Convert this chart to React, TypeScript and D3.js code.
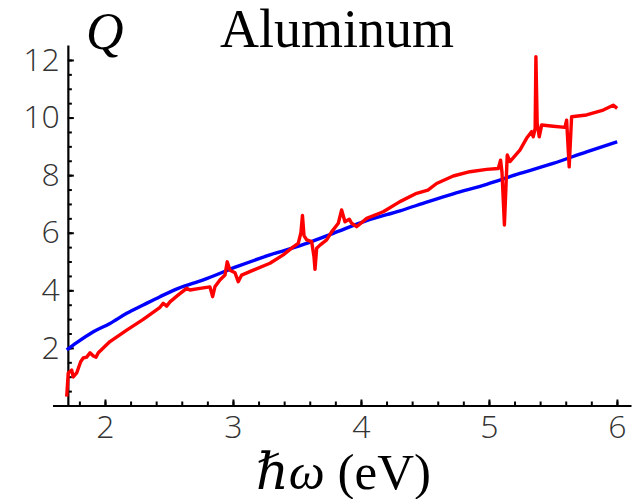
import { useEffect, useRef } from "react";
import * as d3 from "d3";

const W = 638;
const H = 499;

const measuredEnergy = [
  1.701, 1.713, 1.74, 1.752, 1.779, 1.81, 1.83, 1.857, 1.883, 1.909, 1.93, 1.948,
  2.039, 2.17, 2.299, 2.43, 2.455, 2.482, 2.508, 2.573, 2.638, 2.664, 2.742, 2.82,
  2.841, 2.859, 2.898, 2.938, 2.955, 2.977, 3.016, 3.041, 3.068, 3.159, 3.289, 3.393,
  3.471, 3.51, 3.531, 3.543, 3.555, 3.576, 3.615, 3.633, 3.641, 3.654, 3.68, 3.732,
  3.771, 3.823, 3.849, 3.875, 3.909, 3.927, 3.966, 4.045, 4.174, 4.305, 4.435, 4.523,
  4.591, 4.721, 4.852, 4.982, 5.073, 5.091, 5.102, 5.121, 5.133, 5.143, 5.164, 5.242,
  5.294, 5.333, 5.346, 5.361, 5.367, 5.377, 5.393, 5.412, 5.502, 5.594, 5.607, 5.627,
  5.646, 5.763, 5.893, 5.971, 6.002,
];
const measuredQ = [
  0.31, 1.13, 1.23, 0.99, 1.13, 1.52, 1.65, 1.68, 1.83, 1.72, 1.68, 1.83,
  2.22, 2.62, 2.99, 3.41, 3.55, 3.45, 3.6, 3.84, 4.07, 4.01, 4.07, 4.12,
  3.78, 4.12, 4.36, 4.53, 4.99, 4.7, 4.61, 4.3, 4.53, 4.7, 4.94, 5.23,
  5.51, 5.63, 6.0, 6.6, 5.9, 5.75, 5.69, 5.17, 4.73, 5.46, 5.57, 5.75,
  6.03, 6.33, 6.79, 6.38, 6.47, 6.33, 6.21, 6.5, 6.73, 7.08, 7.37, 7.48,
  7.71, 7.97, 8.12, 8.2, 8.23, 8.52, 8.1, 6.27, 7.6, 8.7, 8.47, 8.87,
  9.28, 9.51, 9.33, 9.62, 12.11, 9.8, 9.33, 9.74, 9.7, 9.66, 9.91, 8.29,
  10.03, 10.09, 10.26, 10.43, 10.32,
];

// theory curve (blue)
const theoryEnergy = [
  1.701, 1.779, 1.909, 2.039, 2.17, 2.299, 2.43, 2.573, 2.768, 3.029, 3.289, 3.588,
  3.784, 4.044, 4.305, 4.526, 4.721, 4.982, 5.242, 5.502, 5.763, 6.002,
];
const theoryQ = [
  1.93, 2.18, 2.56, 2.85, 3.2, 3.49, 3.78, 4.07, 4.36, 4.82, 5.23, 5.65,
  5.98, 6.42, 6.76, 7.08, 7.35, 7.68, 8.06, 8.41, 8.81, 9.16,
];

const xTickLabels = [2, 3, 4, 5, 6];
const yTickLabels = [2, 4, 6, 8, 10, 12];

const App = () => {
  const svgRef = useRef<SVGSVGElement>(null);

  useEffect(() => {
    const svg = d3.select(svgRef.current);
    svg.selectAll("*").remove();

    const x = d3.scaleLinear().domain([1.59, 6.11]).range([52.5, 631]);
    const y = d3.scaleLinear().domain([0, 12.52]).range([405.5, 45]);
    const xOrigin = 1.71;

    const tickFont = "'Open Sans', 'Liberation Sans', sans-serif";

    // minor ticks
    const xMinor = d3.range(9, 31).map((i) => i * 0.2);
    const yMinor = d3.range(1, 25).map((i) => i * 0.5);

    const xAxisMinor = d3.axisBottom(x).tickValues(xMinor).tickSize(-4).tickFormat(() => "");
    const yAxisMinor = d3.axisLeft(y).tickValues(yMinor).tickSize(-4).tickFormat(() => "");

    svg
      .append("g")
      .attr("transform", `translate(0, ${y(0)})`)
      .call(xAxisMinor)
      .call((g) => g.select(".domain").remove());
    svg
      .append("g")
      .attr("transform", `translate(${x(xOrigin)}, 0)`)
      .call(yAxisMinor)
      .call((g) => g.select(".domain").remove());

    const xAxis = d3
      .axisBottom(x)
      .tickValues(xTickLabels)
      .tickSize(-6)
      .tickSizeOuter(0)
      .tickPadding(10)
      .tickFormat(d3.format("d"));
    const yAxis = d3
      .axisLeft(y)
      .tickValues(yTickLabels)
      .tickSize(-6)
      .tickSizeOuter(0)
      .tickPadding(8)
      .tickFormat(d3.format("d"));

    const gx = svg.append("g").attr("transform", `translate(0, ${y(0)})`).call(xAxis);
    const gy = svg.append("g").attr("transform", `translate(${x(xOrigin)}, 0)`).call(yAxis);

    [gx, gy].forEach((g) => {
      g.selectAll("text")
        .attr("font-family", tickFont)
        .attr("font-weight", 300)
        .attr("font-size", 32)
        .attr("fill", "#333");
    });
    svg.selectAll(".domain").attr("stroke", "#000").attr("stroke-width", 2.2);
    svg.selectAll(".tick line").attr("stroke", "#000").attr("stroke-width", 2);

    const measured = measuredEnergy.map((e, i) => [x(e), y(measuredQ[i])] as [number, number]);
    const theory = theoryEnergy.map((e, i) => [x(e), y(theoryQ[i])] as [number, number]);

    svg
      .append("path")
      .attr("d", d3.line().curve(d3.curveMonotoneX)(theory))
      .attr("fill", "none")
      .attr("stroke", "#0000ff")
      .attr("stroke-width", 3.4);

    svg
      .append("path")
      .attr("d", d3.line()(measured))
      .attr("fill", "none")
      .attr("stroke", "#ff0000")
      .attr("stroke-width", 3.4)
      .attr("stroke-linejoin", "round");

    // titles
    svg
      .append("text")
      .attr("x", 86)
      .attr("y", 49)
      .attr("font-family", "'Liberation Serif', 'Times New Roman', serif")
      .attr("font-style", "italic")
      .attr("font-size", 52)
      .text("Q");

    svg
      .append("text")
      .attr("x", 220)
      .attr("y", 47)
      .attr("font-family", "'Liberation Serif', 'Times New Roman', serif")
      .attr("font-size", 54)
      .text("Aluminum");

    const xl = svg
      .append("text")
      .attr("x", 256)
      .attr("y", 489)
      .attr("font-family", "'Liberation Serif', 'DejaVu Serif', serif")
      .attr("font-size", 51);
    xl.append("tspan").attr("font-style", "italic").text("\u210Fω");
    xl.append("tspan").text(" (eV)");
  }, []);

  return (
    <svg
      ref={svgRef}
      width={W}
      height={H}
      style={{ position: "absolute", left: 0, top: 0, background: "#fff" }}
    />
  );
};

export default App;
